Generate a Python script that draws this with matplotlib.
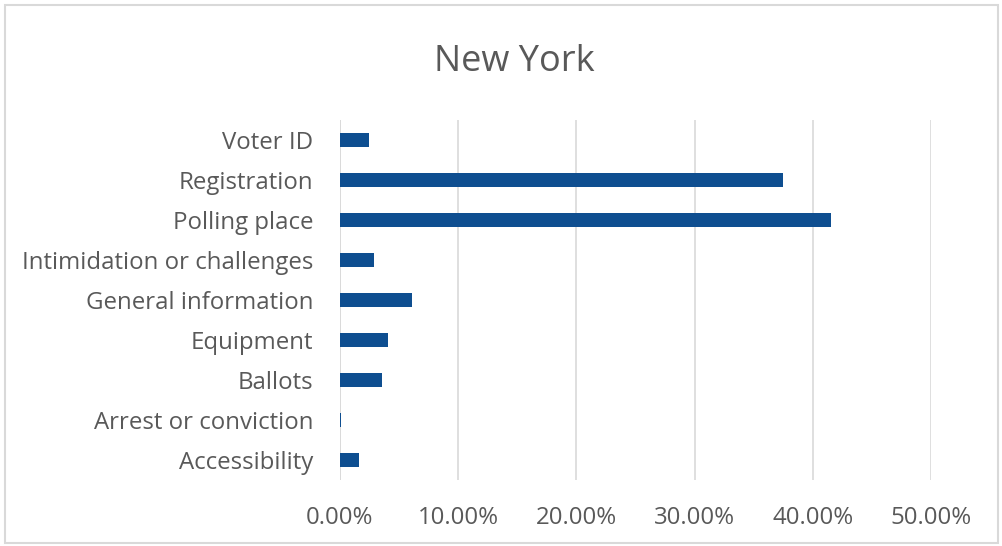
import matplotlib
matplotlib.use("Agg")
import matplotlib.pyplot as plt
from matplotlib.patches import Rectangle
from matplotlib.ticker import FuncFormatter

# Share of reported issues by category (bottom to top)
categories = ["Accessibility", "Arrest or conviction", "Ballots", "Equipment",
              "General information", "Intimidation or challenges",
              "Polling place", "Registration", "Voter ID"]
shares = [0.0163, 0.0011, 0.0358, 0.0408, 0.0611, 0.0285, 0.415, 0.3745, 0.0248]

BAR = "#0e4e90"
GRID = "#d9d9d9"
TEXT = "#595959"

plt.rcParams["font.family"] = ["Open Sans", "DejaVu Sans"]

fig = plt.figure(figsize=(10.03, 5.46), dpi=100)
ax = fig.add_axes([340 / 1003, 66 / 546, 591 / 1003, 360 / 546])

ax.barh(range(len(categories)), shares, height=0.37, color=BAR, zorder=3)

ax.set_xlim(0, 0.5)
ax.set_ylim(-0.5, len(categories) - 0.5)
ax.set_xticks([0, 0.1, 0.2, 0.3, 0.4, 0.5])
ax.xaxis.set_major_formatter(FuncFormatter(lambda v, _: f"{v * 100:.2f}%"))
ax.set_yticks(range(len(categories)))
ax.set_yticklabels(categories)

ax.grid(axis="x", color=GRID, linewidth=1.2, zorder=0)
for s in ax.spines.values():
    s.set_visible(False)
ax.axvline(0, color=GRID, linewidth=1.2, zorder=1)
ax.tick_params(axis="both", length=0, labelsize=17.3, labelcolor=TEXT)
ax.tick_params(axis="x", pad=19)
ax.tick_params(axis="y", pad=19)

fig.text(0.513, 0.886, "New York", ha="center", va="center",
         fontsize=26, color=TEXT)

# chart frame
fig.patches.append(Rectangle((5 / 1003, 3 / 546), 993 / 1003, 538 / 546,
                             transform=fig.transFigure, fill=False,
                             edgecolor=GRID, linewidth=1.5))

fig.savefig("out.png", dpi=100)
